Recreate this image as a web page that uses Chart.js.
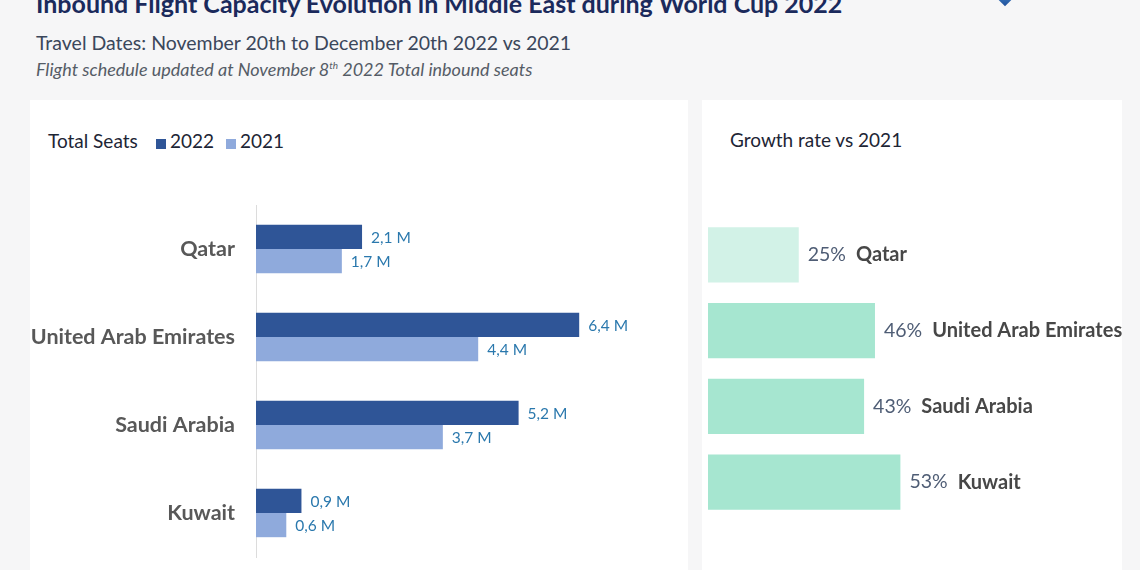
<!DOCTYPE html>
<html>
<head>
<meta charset="utf-8">
<script src="https://cdn.jsdelivr.net/npm/chart.js@4.4.0/dist/chart.umd.min.js"></script>
<style>
  body { margin:0; width:1140px; height:570px; overflow:hidden; background:#f6f6f7; font-family:Lato, sans-serif; position:relative; }
  .abs { position:absolute; white-space:nowrap; line-height:1; }
  .panel { position:absolute; top:100px; height:480px; background:#fff; }
  .title { left:36px; top:-9px; font-size:25px; font-weight:bold; color:#1b2a5c; }
  .sub { left:36px; top:33px; font-size:19.5px; color:#3b475b; }
  .note { left:36px; top:60px; font-size:18px; font-style:italic; color:#555c66; }
  .note sup { font-size:10px; vertical-align:7px; line-height:0; }
  .head { font-size:19px; color:#1e2535; }
  .sq { position:absolute; width:10px; height:10px; }
  .logo { left:997px; top:-13px; width:16px; height:16px; transform:rotate(45deg); background:linear-gradient(135deg,#5aa9e6,#1f4f9a); }
  canvas { position:absolute; }
</style>
</head>
<body>
<div class="panel" style="left:30px;width:658px"></div>
<div class="panel" style="left:702px;width:420px"></div>

<div class="abs title">Inbound Flight Capacity Evolution in Middle East during World Cup 2022</div>
<div class="abs sub">Travel Dates: November 20th to December 20th 2022 vs 2021</div>
<div class="abs note">Flight schedule updated at November 8<sup>th</sup> 2022 Total inbound seats</div>
<div class="abs logo"></div>

<div class="abs head" style="left:48px;top:131px">Total Seats</div>
<div class="sq" style="left:156px;top:139px;background:#2f5597"></div>
<div class="abs head" style="left:170px;top:131px">2022</div>
<div class="sq" style="left:226px;top:139px;background:#8faadc"></div>
<div class="abs head" style="left:240px;top:131px">2021</div>
<div class="abs head" style="left:730px;top:130px">Growth rate vs 2021</div>

<canvas id="seatsChart" width="640" height="380" style="left:30px;top:190px"></canvas>
<canvas id="growthChart" width="438" height="380" style="left:702px;top:190px"></canvas>

<script>
var countries = ['Qatar', 'United Arab Emirates', 'Saudi Arabia', 'Kuwait'];
var seats2022 = [2.1, 6.4, 5.2, 0.9];   // millions
var seats2021 = [1.7, 4.4, 3.7, 0.6];
var growthRates = [25, 46, 43, 53];     // % vs 2021
var growthColors = ['#d2f2e7', '#a6e6d0', '#a6e6d0', '#a6e6d0'];

// value labels next to the bars
var seatLabels = {
  id: 'seatLabels',
  afterDatasetsDraw: function(chart) {
    var ctx = chart.ctx;
    ctx.save();
    ctx.font = '15.5px Lato';
    ctx.fillStyle = '#2a78ad';
    ctx.textBaseline = 'middle';
    chart.data.datasets.forEach(function(ds, i) {
      chart.getDatasetMeta(i).data.forEach(function(bar, j) {
        var txt = ds.data[j].toFixed(1).replace('.', ',') + ' M';
        ctx.fillText(txt, bar.x + 9, bar.y + 1);
      });
    });
    ctx.restore();
  }
};

var growthLabels = {
  id: 'growthLabels',
  afterDatasetsDraw: function(chart) {
    var ctx = chart.ctx;
    ctx.save();
    ctx.textBaseline = 'middle';
    chart.getDatasetMeta(0).data.forEach(function(bar, j) {
      var pct = growthRates[j] + '%';
      ctx.font = '19.5px Lato';
      ctx.fillStyle = '#4f5d75';
      var x = bar.x + 9;
      ctx.fillText(pct, x, bar.y);
      x += ctx.measureText(pct).width + 10;
      ctx.font = 'bold 20px Lato';
      ctx.fillStyle = '#474747';
      ctx.fillText(countries[j], x, bar.y);
    });
    ctx.restore();
  }
};

new Chart(document.getElementById('seatsChart'), {
  type: 'bar',
  data: {
    labels: countries,
    datasets: [
      { label: '2022', data: seats2022, backgroundColor: '#2f5597' },
      { label: '2021', data: seats2021, backgroundColor: '#8faadc' }
    ]
  },
  options: {
    indexAxis: 'y',
    responsive: false,
    animation: false,
    categoryPercentage: 0.55,
    barPercentage: 1,
    layout: { padding: { top: 15, bottom: 13, right: 10, left: 0 } },
    plugins: { legend: { display: false }, tooltip: { enabled: false } },
    scales: {
      x: { display: false, min: 0, max: 8 },
      y: {
        grid: { display: false, drawTicks: false },
        border: { display: true, color: '#dcdcdc', width: 1 },
        ticks: { padding: 21, color: '#585858', font: { family: 'Lato', size: 21.5, weight: 'bold' } },
        afterFit: function(scale) {
          scale.width = 226;
          scale.paddingTop = 0;
          scale.paddingBottom = 0;
        }
      }
    }
  },
  plugins: [seatLabels]
});

new Chart(document.getElementById('growthChart'), {
  type: 'bar',
  data: {
    labels: countries,
    datasets: [{ label: 'Growth', data: growthRates, backgroundColor: growthColors }]
  },
  options: {
    indexAxis: 'y',
    responsive: false,
    animation: false,
    categoryPercentage: 0.73,
    barPercentage: 1,
    layout: { padding: { top: 27, bottom: 50, left: 6, right: 69 } },
    plugins: { legend: { display: false }, tooltip: { enabled: false } },
    scales: {
      x: { display: false, min: 0, max: 100 },
      y: { display: false }
    }
  },
  plugins: [growthLabels]
});
</script>
</body>
</html>
